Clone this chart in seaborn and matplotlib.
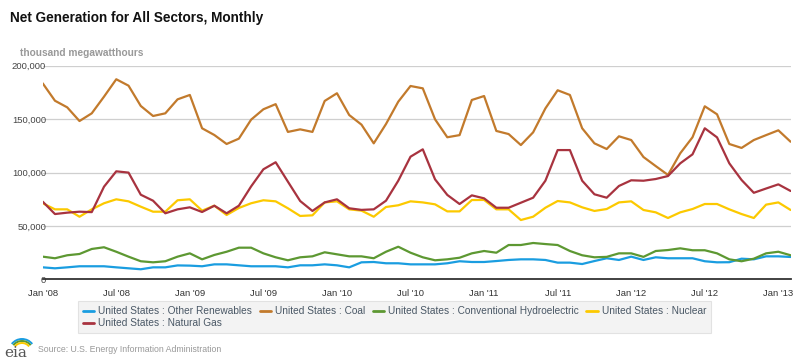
import numpy as np
import pandas as pd
import matplotlib
matplotlib.use("Agg")
import matplotlib.pyplot as plt
from matplotlib.lines import Line2D
from matplotlib.patches import Arc
import seaborn as sns

# ---------------- data (thousand megawatthours) ----------------
tick_labels = ["Jan '08", "Jul '08", "Jan '09", "Jul '09", "Jan '10", "Jul '10",
               "Jan '11", "Jul '11", "Jan '12", "Jul '12", "Jan '13"]

other_renewables = [11200, 10300, 11200, 12200, 12200, 12200, 11200, 10300, 9400, 11200, 11200, 13000,
                    12800, 12200, 14000, 14000, 13100, 12200, 12200, 12200, 11200, 13100, 13100, 14000,
                    13100, 11200, 15900, 16200, 15000, 15000, 14000, 14000, 14000, 15000, 16900, 16200,
                    16200, 17100, 18100, 18700, 18700, 18100, 15600, 15600, 14300, 17100, 19700, 18100,
                    21200, 18100, 20600, 19700, 19700, 19700, 16900, 15900, 16000, 19300, 18700, 21500,
                    21500, 20900]
coal = [183500, 167200, 161000, 148200, 155400, 171000, 187300, 181300, 162300, 152900, 155400, 168500,
        172600, 141400, 135100, 126700, 131700, 149500, 159200, 164000, 138000, 140400, 138000, 167000,
        174200, 153800, 144800, 127300, 145400, 166300, 181000, 178800, 149800, 133000, 135000, 167900,
        171600, 138900, 136000, 125700, 137600, 160000, 177000, 172600, 141400, 127300, 122000, 133900,
        130400, 114500, 106000, 97700, 118000, 133000, 162000, 154500, 126700, 123000, 130400, 135000,
        139500, 128800]
hydro = [21200, 19700, 22500, 23700, 28400, 30000, 25800, 21200, 16900, 15900, 16900, 21200,
         24300, 18700, 22800, 25800, 29600, 29600, 24300, 20600, 17800, 20600, 21500, 25300,
         23400, 21500, 21500, 19700, 25800, 30500, 24900, 20600, 17800, 18700, 20200, 24300,
         26500, 24900, 32100, 32100, 34000, 33000, 32100, 26500, 22500, 20600, 21000, 24300,
         24300, 21000, 26500, 27400, 29000, 27200, 27200, 24300, 18700, 16900, 19300, 24300,
         25800, 22500]
nuclear = [71200, 65500, 65500, 58600, 65500, 71200, 74900, 73000, 68000, 63300, 63300, 74000,
           74900, 64300, 68900, 60200, 66800, 71200, 74000, 73000, 66500, 59300, 59900, 72000,
           73000, 65500, 64300, 58600, 67700, 69300, 73000, 72000, 70200, 63600, 63600, 74200,
           74300, 65500, 65500, 55500, 58600, 67000, 73300, 72000, 67400, 64000, 65800, 72000,
           73000, 64900, 62700, 57400, 62700, 65800, 70500, 70500, 65500, 61100, 57400, 69900,
           72000, 64900]
natural_gas = [72700, 61100, 62400, 63300, 62900, 86700, 101100, 99900, 79200, 73600, 61800, 65500,
               67400, 63000, 68900, 61800, 68900, 87000, 103000, 109600, 91400, 73300, 64000, 72000,
               74900, 66500, 65000, 65500, 73600, 92300, 114800, 121700, 93600, 79000, 70500, 78600,
               75800, 67000, 67000, 71700, 76400, 92300, 121000, 121000, 92300, 79600, 76400, 87400,
               92700, 92300, 93900, 96700, 108600, 117000, 141400, 132900, 108600, 93000, 81000, 85000,
               88900, 82700]

series_names = ["United States : Other Renewables", "United States : Coal",
                "United States : Conventional Hydroelectric", "United States : Nuclear",
                "United States : Natural Gas"]
series_values = [other_renewables, coal, hydro, nuclear, natural_gas]
colors = ["#1a9de0", "#c27a2c", "#5d9832", "#fcc900", "#a8333f"]

months = np.arange(len(coal))
df = pd.concat([pd.DataFrame({"month": months, "value": v, "series": n})
                for n, v in zip(series_names, series_values)], ignore_index=True)

# ---------------- figure ----------------
sns.set_style("white")
plt.rcParams["font.family"] = ["Liberation Sans", "DejaVu Sans"]

W, H = 800, 361
fig = plt.figure(figsize=(W / 100, H / 100), dpi=100)
x0, x1 = 42.7, 790.6
y_top, y_bot = 65.7, 279.3
ax = fig.add_axes([x0 / W, 1 - y_bot / H, (x1 - x0) / W, (y_bot - y_top) / H])

sns.lineplot(data=df, x="month", y="value", hue="series", hue_order=series_names,
             palette=dict(zip(series_names, colors)), linewidth=1.6, ax=ax, legend=False)

ax.set_xlim(0, len(coal) - 1)
ax.set_ylim(0, 200000)
ax.set_yticks([0, 50000, 100000, 150000, 200000])
ax.set_yticklabels([f"{int(v):,}" for v in ax.get_yticks()])
ax.set_xticks(np.arange(0, 61, 6))
ax.set_xticklabels(tick_labels)
ax.set_xlabel("")
ax.set_ylabel("")

for s in ["top", "right", "left"]:
    ax.spines[s].set_visible(False)
ax.spines["bottom"].set_color("#333333")
ax.spines["bottom"].set_linewidth(1.3)
ax.grid(axis="y", color="#cfcfcf", linewidth=0.9)
ax.grid(axis="x", visible=False)
ax.set_axisbelow(True)
ax.tick_params(axis="y", length=0, pad=-2.5, labelsize=6.8, labelcolor="#444444")
ax.tick_params(axis="x", length=4, width=0.9, color="#333333", direction="out",
               pad=3, labelsize=6.8, labelcolor="#333333")
ax.patch.set_alpha(0)

# ---------------- texts ----------------
fig.text(10 / W, 1 - 18 / H, "Net Generation for All Sectors, Monthly",
         fontsize=9.8, fontweight="bold", color="#111111", va="center", ha="left")
fig.text(20 / W, 1 - 53.5 / H, "thousand megawatthours",
         fontsize=7.3, fontweight="bold", color="#999999", va="center", ha="left")

handles = [Line2D([0], [0], color=c, lw=2) for c in colors]
order = [0, 4, 1, 2, 3]
leg = fig.legend([handles[i] for i in order], [series_names[i] for i in order],
                 ncol=4, loc="upper left", bbox_to_anchor=(78 / W, 1 - 301 / H),
                 frameon=True, fancybox=False, facecolor="#f0f0f0", edgecolor="#dddddd",
                 fontsize=7.3, handlelength=1.1, handletextpad=0.4, columnspacing=0.75,
                 labelspacing=0.22, borderpad=0.5, borderaxespad=0)
for t in leg.get_texts():
    t.set_color("#4a5866")
leg.get_frame().set_linewidth(0.8)

fig.text(38 / W, 1 - 350 / H, "Source: U.S. Energy Information Administration",
         fontsize=6.3, color="#999999", va="center", ha="left")

# eia logo
fig.text(4 / W, 1 - 353 / H, "eia", fontsize=11, color="#555555", family="DejaVu Serif",
         va="center", ha="left")
for i, c in enumerate(["#1a9de0", "#5d9832", "#fcc900"]):
    arc = Arc((22 / W, 1 - 352 / H), (26 - 4 * i) / W, (26 - 4 * i) / H, angle=0,
              theta1=60, theta2=120, color=c, lw=1.4, transform=fig.transFigure)
    fig.add_artist(arc)

fig.savefig("out.png", dpi=100)
